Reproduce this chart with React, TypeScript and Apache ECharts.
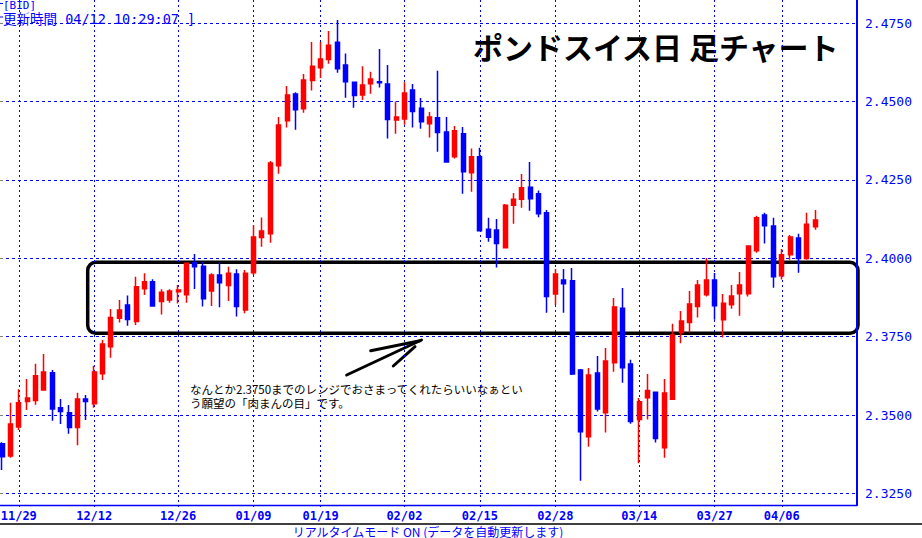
import React, { useEffect, useRef } from "react";
import * as echarts from "echarts";

const categories = [
  "11/27", "11/28", "11/29", "11/30", "12/01", "12/04", "12/05", "12/06", "12/07", "12/08",
  "12/11", "12/12", "12/13", "12/14", "12/15", "12/18", "12/19", "12/20", "12/21", "12/22",
  "12/25", "12/26", "12/27", "12/28", "12/29", "01/02", "01/03", "01/04", "01/05", "01/08",
  "01/09", "01/10", "01/11", "01/12", "01/15", "01/16", "01/17", "01/18", "01/19", "01/22",
  "01/23", "01/24", "01/25", "01/26", "01/29", "01/30", "01/31", "02/01", "02/02", "02/05",
  "02/06", "02/07", "02/08", "02/09", "02/12", "02/13", "02/14", "02/15", "02/16", "02/19",
  "02/20", "02/21", "02/22", "02/23", "02/26", "02/27", "02/28", "03/01", "03/02", "03/05",
  "03/06", "03/07", "03/08", "03/09", "03/12", "03/13", "03/14", "03/15", "03/16", "03/19",
  "03/20", "03/21", "03/22", "03/23", "03/26", "03/27", "03/28", "03/29", "03/30", "04/02",
  "04/03", "04/04", "04/05", "04/06", "04/09", "04/10", "04/11", "04/12",
];

const opens = [
  2.3408, 2.3369, 2.3462, 2.3543, 2.3546, 2.358, 2.3635, 2.3523, 2.3507, 2.346,
  2.3551, 2.3536, 2.3632, 2.3718, 2.3809, 2.3851, 2.3798, 2.3903, 2.3925, 2.3862,
  2.3867, 2.3893, 2.3884, 2.3986, 2.3975, 2.3896, 2.3947, 2.3913, 2.395, 2.3835,
  2.3954, 2.4066, 2.4078, 2.4295, 2.4439, 2.4524, 2.4477, 2.4567, 2.4608, 2.4634,
  2.4689, 2.4617, 2.4562, 2.4521, 2.4557, 2.4563, 2.4556, 2.4441, 2.4444, 2.4537,
  2.4479, 2.4429, 2.4448, 2.4403, 2.4324, 2.4397, 2.4273, 2.4324, 2.4093, 2.409,
  2.4034, 2.4169, 2.4188, 2.4227, 2.4206, 2.4145, 2.3886, 2.3931, 2.3928, 2.3644,
  2.3431, 2.3634, 2.3507, 2.3667, 2.3841, 2.3663, 2.3486, 2.3555, 2.3573, 2.3396,
  2.355, 2.3763, 2.3795, 2.3846, 2.3884, 2.3931, 2.3804, 2.3852, 2.3887, 2.3887,
  2.4024, 2.4138, 2.4103, 2.3944, 2.4011, 2.4065, 2.3999, 2.4101,
];

const closes = [
  2.3367, 2.3471, 2.3539, 2.3554, 2.3625, 2.3637, 2.3519, 2.3511, 2.346, 2.3551,
  2.3543, 2.3637, 2.3727, 2.3811, 2.3835, 2.3805, 2.3909, 2.3925, 2.3848, 2.3892,
  2.3896, 2.3899, 2.3984, 2.3973, 2.3871, 2.3947, 2.3922, 2.3952, 2.3846, 2.3952,
  2.4068, 2.4087, 2.4304, 2.4425, 2.4521, 2.4474, 2.4569, 2.4613, 2.4636, 2.468,
  2.4605, 2.4563, 2.4519, 2.4553, 2.4572, 2.456, 2.4443, 2.4451, 2.4527, 2.4468,
  2.4436, 2.4451, 2.4401, 2.4307, 2.4407, 2.4276, 2.4324, 2.4088, 2.4067, 2.4047,
  2.4169, 2.4188, 2.4225, 2.419, 2.4142, 2.3878, 2.395, 2.3919, 2.3631, 2.3447,
  2.3628, 2.3519, 2.3672, 2.3845, 2.3651, 2.3479, 2.3542, 2.3578, 2.3425, 2.357,
  2.3755, 2.38, 2.3854, 2.3915, 2.3931, 2.3849, 2.3857, 2.388, 2.3915, 2.4039,
  2.4129, 2.4104, 2.3941, 2.4011, 2.4068, 2.3999, 2.4109, 2.4122,
];

const lows = [
  2.3325, 2.3364, 2.3452, 2.3516, 2.3533, 2.3578, 2.3482, 2.3471, 2.344, 2.3404,
  2.3484, 2.3523, 2.3612, 2.3683, 2.3795, 2.3785, 2.3787, 2.3883, 2.3846, 2.3821,
  2.3858, 2.3856, 2.3858, 2.3902, 2.3846, 2.3848, 2.3844, 2.3864, 2.3814, 2.3825,
  2.3947, 2.4037, 2.405, 2.427, 2.4417, 2.441, 2.4464, 2.4535, 2.4575, 2.4621,
  2.4592, 2.4512, 2.448, 2.4505, 2.4525, 2.4545, 2.4382, 2.4397, 2.4426, 2.4417,
  2.4413, 2.4385, 2.434, 2.4305, 2.4318, 2.4206, 2.4212, 2.4086, 2.4053, 2.3971,
  2.4033, 2.411, 2.4161, 2.4152, 2.4131, 2.3826, 2.3851, 2.3826, 2.3628, 2.329,
  2.3399, 2.3511, 2.3444, 2.3638, 2.3603, 2.3472, 2.3346, 2.3486, 2.3412, 2.3364,
  2.3548, 2.3729, 2.3763, 2.3811, 2.3878, 2.3804, 2.3747, 2.3839, 2.3817, 2.3878,
  2.4018, 2.4047, 2.3906, 2.3932, 2.3995, 2.3954, 2.3995, 2.4091,
];

const highs = [
  2.3413, 2.3539, 2.3582, 2.3615, 2.3664, 2.3695, 2.3644, 2.3551, 2.3532, 2.3571,
  2.3564, 2.3657, 2.3739, 2.3838, 2.3867, 2.3881, 2.3941, 2.3952, 2.3933, 2.3901,
  2.3901, 2.3915, 2.3985, 2.4014, 2.3989, 2.3952, 2.3987, 2.3973, 2.3965, 2.3963,
  2.4106, 2.413, 2.431, 2.4451, 2.455, 2.453, 2.4588, 2.469, 2.469, 2.4725,
  2.476, 2.4653, 2.4564, 2.4613, 2.4595, 2.4668, 2.4617, 2.45, 2.4562, 2.4556,
  2.4511, 2.4467, 2.4598, 2.4451, 2.4422, 2.4419, 2.435, 2.4353, 2.4129, 2.4125,
  2.4173, 2.4208, 2.4269, 2.4307, 2.4216, 2.4154, 2.3966, 2.3966, 2.3969, 2.3647,
  2.365, 2.3688, 2.3714, 2.3873, 2.3905, 2.3676, 2.3554, 2.3631, 2.3575, 2.3615,
  2.3791, 2.3832, 2.3896, 2.3931, 2.4001, 2.3953, 2.3886, 2.3915, 2.3956, 2.4042,
  2.4136, 2.4145, 2.4129, 2.403, 2.4074, 2.4078, 2.4145, 2.4154,
];

const tickLabels = [
  "11/29", "12/12", "12/26", "01/09", "01/19", "02/02", "02/15", "02/28", "03/14", "03/27", "04/06",
];

const titleText = "ポンドスイス日 足チャート";
const headerLine1 = "[BID]";
const headerLine2 = "更新時間 04/12 10:29:07 ]";
const noteLine1 = "なんとか2.3750までのレンジでおさまってくれたらいいなぁとい";
const noteLine2 = "う願望の「肉まんの目」です。";
const footerText = "リアルタイムモード ON (データを自動更新します)";

export default function App() {
  const ref = useRef<HTMLDivElement>(null);

  useEffect(() => {
    if (!ref.current) return;
    const chart = echarts.init(ref.current, null, { renderer: "svg" });
    const blue = "#0000FF";
    const red = "#FF0000";
    const candle = categories.map((_, i) => [opens[i], closes[i], lows[i], highs[i]]);
    const showTick = (_idx: number, val: string) => tickLabels.includes(val);

    chart.setOption({
      animation: false,
      backgroundColor: "#FFFFFF",
      grid: [
        { left: 0, top: -55.18, width: 857, height: 626.96, outerBoundsMode: "none", containLabel: false },
        { left: 0, top: 0, width: 857, height: 505, outerBoundsMode: "none", containLabel: false },
        { left: 2, top: 0, width: 813.3, height: 505, outerBoundsMode: "none", containLabel: false },
      ],
      xAxis: [
        { gridIndex: 0, type: "value", min: 0, max: 1, show: false },
        {
          gridIndex: 1,
          type: "value",
          min: 0,
          max: 1,
          axisLine: { show: true, onZero: false, lineStyle: { color: blue, width: 1.3 } },
          axisTick: { show: false },
          axisLabel: { show: false },
          splitLine: { show: false },
        },
        {
          gridIndex: 2,
          type: "category",
          data: categories,
          boundaryGap: false,
          axisLine: { show: false },
          axisTick: { show: true, interval: showTick, length: 2, lineStyle: { color: blue } },
          axisLabel: {
            interval: showTick,
            color: blue,
            fontFamily: "DejaVu Sans Mono",
            fontWeight: "bold",
            fontSize: 12,
            margin: 5,
          },
          splitLine: {
            show: true,
            interval: showTick,
            lineStyle: { color: blue, type: [2, 3], width: 1 },
          },
        },
      ],
      yAxis: [
        {
          gridIndex: 0,
          type: "value",
          position: "right",
          min: 2.3,
          max: 2.5,
          interval: 0.025,
          axisLine: { show: false },
          axisTick: { show: true, length: 3, lineStyle: { color: "#808080" } },
          axisLabel: {
            color: blue,
            fontFamily: "DejaVu Sans Mono",
            fontSize: 13,
            margin: 8,
            formatter: (v: number) => (v < 2.3005 || v > 2.4995 ? "" : v.toFixed(4)),
          },
          splitLine: { show: true, lineStyle: { color: blue, type: [3, 3], width: 1 } },
        },
        {
          gridIndex: 1,
          type: "value",
          position: "right",
          min: 0,
          max: 1,
          axisLine: { show: true, onZero: false, lineStyle: { color: blue, width: 2 } },
          axisTick: { show: false },
          axisLabel: { show: false },
          splitLine: { show: false },
        },
        { gridIndex: 2, type: "value", min: 2.3213, max: 2.4824, show: false },
      ],
      series: [
        {
          type: "candlestick",
          xAxisIndex: 2,
          yAxisIndex: 2,
          data: candle,
          barWidth: 4.5,
          clip: false,
          itemStyle: {
            color: red,
            color0: blue,
            borderColor: red,
            borderColor0: blue,
            borderWidth: 1.5,
          },
        },
      ],
      graphic: [
        {
          type: "line",
          shape: { x1: 0, y1: 3.5, x2: 3, y2: 3.5 },
          style: { stroke: blue, lineWidth: 1 },
        },
        {
          type: "line",
          shape: { x1: 0, y1: 17, x2: 3, y2: 17 },
          style: { stroke: blue, lineWidth: 1 },
        },
        {
          type: "text",
          x: 3,
          y: 5.5,
          style: {
            text: headerLine1,
            fill: blue,
            fontFamily: "DejaVu Sans Mono",
            fontSize: 11,
            lineHeight: 11,
            verticalAlign: "middle",
          },
        },
        {
          type: "text",
          x: 3,
          y: 18.8,
          style: {
            text: headerLine2,
            fill: blue,
            fontFamily: "'DejaVu Sans Mono', 'Noto Sans CJK JP'",
            fontSize: 13.5,
            lineHeight: 13.5,
            verticalAlign: "middle",
          },
        },
        {
          type: "text",
          x: 473,
          y: 46,
          style: {
            text: titleText,
            fill: "#000000",
            fontFamily: "'Noto Sans CJK JP'",
            fontWeight: "bold",
            fontSize: 30,
            verticalAlign: "middle",
          },
        },
        {
          type: "rect",
          shape: { x: 87.7, y: 262.3, width: 770.3, height: 71, r: 8 },
          style: { fill: "none", stroke: "#000000", lineWidth: 3.5 },
        },
        {
          type: "polyline",
          shape: { points: [[346.7, 375], [421.5, 340]] },
          style: { stroke: "#000000", lineWidth: 3, lineCap: "round" },
        },
        {
          type: "polyline",
          shape: { points: [[370.7, 350.7], [420, 340.7]] },
          style: { stroke: "#000000", lineWidth: 3, lineCap: "round" },
        },
        {
          type: "polyline",
          shape: { points: [[393.3, 366], [415, 346.7]] },
          style: { stroke: "#000000", lineWidth: 3, lineCap: "round" },
        },
        {
          type: "text",
          x: 190,
          y: 388.5,
          style: {
            text: noteLine1,
            fill: "#000000",
            fontFamily: "'Noto Sans CJK JP'",
            fontSize: 11.5,
            verticalAlign: "middle",
          },
        },
        {
          type: "text",
          x: 190,
          y: 403,
          style: {
            text: noteLine2,
            fill: "#000000",
            fontFamily: "'Noto Sans CJK JP'",
            fontSize: 11.5,
            verticalAlign: "middle",
          },
        },
        {
          type: "line",
          shape: { x1: 0, y1: 524, x2: 922, y2: 524 },
          style: { stroke: "#000000", lineWidth: 1.3 },
        },
        {
          type: "text",
          x: 428,
          y: 531,
          style: {
            text: footerText,
            fill: blue,
            fontFamily: "'Noto Sans CJK JP'",
            fontSize: 12,
            align: "center",
            verticalAlign: "middle",
          },
        },
      ],
    });

    return () => {
      chart.dispose();
    };
  }, []);

  return (
    <div
      ref={ref}
      style={{ position: "fixed", left: 0, top: 0, width: 922, height: 538, background: "#FFFFFF" }}
    />
  );
}
